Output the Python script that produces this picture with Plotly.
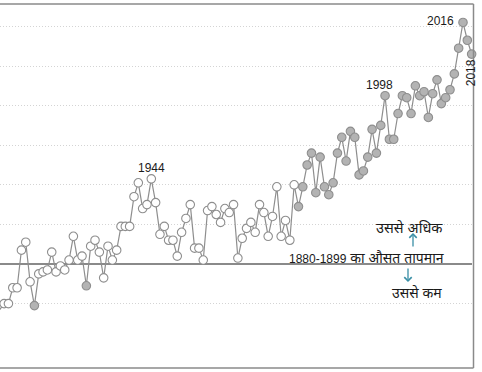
import plotly.graph_objects as go

# ---- data (°C anomaly relative to the 1880-1899 average) ----
years = list(range(1909, 2019))
anomaly = [
    -0.23, -0.20, -0.20, -0.12, -0.12, 0.07, 0.11, -0.09, -0.21, -0.05,   # 1909-1918
    -0.04, -0.03, 0.06, -0.04, -0.01, -0.03, 0.02, 0.14, 0.02, 0.04,      # 1919-1928
    -0.11, 0.09, 0.12, 0.06, -0.07, 0.09, 0.02, 0.07, 0.19, 0.19,         # 1929-1938
    0.19, 0.34, 0.41, 0.28, 0.30, 0.43, 0.31, 0.15, 0.19, 0.12,           # 1939-1948
    0.12, 0.04, 0.16, 0.23, 0.30, 0.08, 0.08, 0.02, 0.27, 0.29,           # 1949-1958
    0.25, 0.21, 0.28, 0.26, 0.30, 0.03, 0.13, 0.18, 0.21, 0.16,           # 1959-1968
    0.30, 0.26, 0.14, 0.24, 0.39, 0.14, 0.22, 0.12, 0.40, 0.29,           # 1969-1978
    0.39, 0.50, 0.56, 0.36, 0.54, 0.39, 0.35, 0.41, 0.56, 0.64,           # 1979-1988
    0.52, 0.67, 0.64, 0.45, 0.47, 0.54, 0.68, 0.56, 0.70, 0.85,           # 1989-1998
    0.63, 0.63, 0.76, 0.85, 0.84, 0.76, 0.90, 0.85, 0.87, 0.74,           # 1999-2008
    0.86, 0.93, 0.81, 0.84, 0.88, 0.96, 1.09, 1.22, 1.13, 1.06,           # 2009-2018
]
grid_levels = [-0.2, 0.2, 0.4, 0.6, 0.8, 1.0, 1.2]
labelled_years = [1944, 1998, 2016]
rotated_label_year = 2018
dark_early_years = [1909, 1917, 1929]
dark_from_year = 1978

baseline_period = "1880-1899"
baseline_words = "का औसत तापमान"
above_label = "उससे अधिक"
below_label = "उससे कम"

# ---- geometry ----
W, H = 482, 372
px_per_year = 4.329
year_at_left = 1909.05
plot_w = 472
y_zero_px = 264
px_per_deg = 198.0

x_range = [year_at_left, year_at_left + plot_w / px_per_year]
y_range = [-(H - y_zero_px) / px_per_deg, y_zero_px / px_per_deg]

LINE = "#8e8e8e"
fills = ["#b3b3b3" if (y >= dark_from_year or y in dark_early_years) else "#ffffff"
         for y in years]

fig = go.Figure()
fig.add_trace(go.Scatter(
    x=years, y=anomaly, mode="lines+markers",
    line=dict(color=LINE, width=1.2),
    marker=dict(size=8.5, color=fills, line=dict(color=LINE, width=1.1)),
    cliponaxis=False, hoverinfo="x+y", showlegend=False,
))

TXT = "#1a1a1a"
FONT = "Liberation Sans, Arial, sans-serif"
HFONT = "Liberation Sans, Noto Sans Devanagari, Lohit Devanagari, FreeSans, sans-serif"

annos = []
val = dict(zip(years, anomaly))
offsets = {1944: (0, 11, "center"), 1998: (-6, 11, "center"), 2016: (-7, 1, "right")}
for yr in labelled_years:
    dx, dy, xa = offsets[yr]
    annos.append(dict(x=yr, y=val[yr], text=str(yr), showarrow=False,
                      xanchor=xa, yanchor="middle", xshift=dx, yshift=dy,
                      font=dict(family=FONT, size=12, color=TXT)))
annos.append(dict(x=rotated_label_year, y=val[rotated_label_year], text=str(rotated_label_year),
                  showarrow=False, textangle=-90, xanchor="center", yanchor="middle",
                  xshift=-0.5, yshift=-19, font=dict(family=FONT, size=12, color=TXT)))

def px_to_paper(xp, yp):
    return xp / W, 1 - yp / H

bx, by = px_to_paper(446, 258)
annos.append(dict(xref="paper", yref="paper", x=bx, y=by,
                  text=f"<span style='font-size:12px'>{baseline_period}</span> {baseline_words}",
                  showarrow=False, xanchor="right", yanchor="middle",
                  font=dict(family=HFONT, size=14, color=TXT)))
ax_, ay_ = px_to_paper(445, 227)
annos.append(dict(xref="paper", yref="paper", x=ax_, y=ay_, text=above_label,
                  showarrow=False, xanchor="right", yanchor="middle",
                  font=dict(family=HFONT, size=14.5, color=TXT)))
cx, cy = px_to_paper(444, 292)
annos.append(dict(xref="paper", yref="paper", x=cx, y=cy, text=below_label,
                  showarrow=False, xanchor="right", yanchor="middle",
                  font=dict(family=HFONT, size=14, color=TXT)))

ARROW = "#3a8fa6"
for (xp, y_head, y_tail) in [(413, 233, 248), (408, 282, 267)]:
    hx, hy = px_to_paper(xp, y_head)
    annos.append(dict(xref="paper", yref="paper", axref="pixel", ayref="pixel",
                      x=hx, y=hy, ax=0, ay=y_tail - y_head, text="", showarrow=True,
                      arrowhead=4, arrowsize=1.1, arrowwidth=1.3, arrowcolor=ARROW))

BORDER = "#8a8a8a"
shapes = []
xr, _ = px_to_paper(473.5, 0)
_, yt = px_to_paper(0, 4)
_, yb = px_to_paper(0, 368)
shapes.append(dict(type="line", xref="paper", yref="paper", x0=0, x1=xr, y0=yt, y1=yt,
                   line=dict(color=BORDER, width=1.5)))
shapes.append(dict(type="line", xref="paper", yref="paper", x0=0, x1=xr, y0=yb, y1=yb,
                   line=dict(color=BORDER, width=1.5)))
shapes.append(dict(type="line", xref="paper", yref="paper", x0=xr, x1=xr, y0=yb, y1=yt,
                   line=dict(color=BORDER, width=1.5)))

fig.update_layout(
    width=W, height=H, margin=dict(l=0, r=0, t=0, b=0),
    paper_bgcolor="white", plot_bgcolor="white",
    xaxis=dict(range=x_range, domain=[0, plot_w / W], showgrid=False, zeroline=False,
               showticklabels=False, ticks="", showline=False, fixedrange=True),
    yaxis=dict(range=y_range, tickvals=grid_levels, showgrid=True, gridcolor="#d4d4d4",
               griddash="1px,2px", gridwidth=1, zeroline=True, zerolinecolor="#8a8a8a",
               zerolinewidth=1.5, showticklabels=False, ticks="", showline=False,
               fixedrange=True),
    annotations=annos, shapes=shapes, showlegend=False,
)

fig.write_html("out.html")
